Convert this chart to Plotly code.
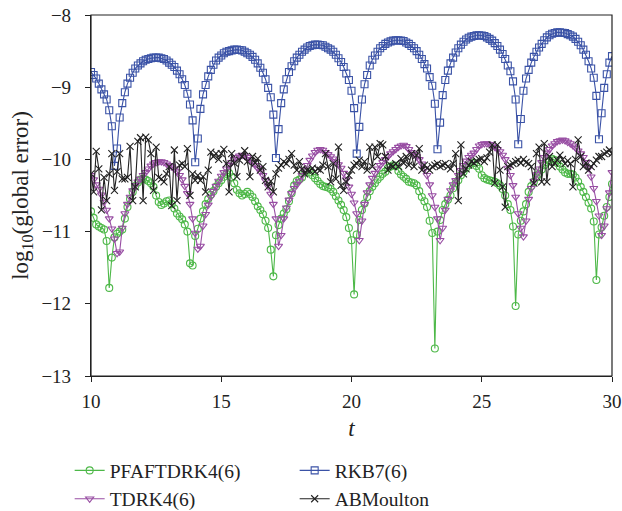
import plotly.graph_objects as go

# sample times
t = [round(10 + 0.1 * i, 1) for i in range(201)]

pfaft = [
    -10.72, -10.81, -10.90, -10.93, -10.95, -10.97, -11.13, -11.78, -11.36, -11.08,
    -11.03, -11.00, -10.97, -10.82, -10.66, -10.55, -10.45, -10.37, -10.32, -10.28,
    -10.27, -10.28, -10.30, -10.33, -10.38, -10.50, -10.59, -10.63, -10.61, -10.58,
    -10.57, -10.62, -10.68, -10.75, -10.79, -10.83, -10.90, -11.00, -11.44, -11.47,
    -11.06, -10.96, -10.82, -10.72, -10.62, -10.55, -10.49, -10.44, -10.38, -10.33,
    -10.29, -10.24, -10.20, -10.19, -10.25, -10.33, -10.42, -10.47, -10.50, -10.48,
    -10.45, -10.48, -10.52, -10.58, -10.65, -10.70, -10.76, -10.85, -10.95, -11.25,
    -11.62, -11.05, -10.91, -10.82, -10.75, -10.69, -10.58, -10.47, -10.36, -10.30,
    -10.28, -10.25, -10.18, -10.15, -10.18, -10.22, -10.26, -10.30, -10.34, -10.37,
    -10.38, -10.39, -10.41, -10.45, -10.51, -10.57, -10.63, -10.70, -10.80, -10.95,
    -11.12, -11.87, -11.04, -10.84, -10.70, -10.61, -10.52, -10.44, -10.38, -10.33,
    -10.28, -10.24, -10.20, -10.17, -10.12, -10.10, -10.08, -10.09, -10.16, -10.21,
    -10.24, -10.27, -10.31, -10.32, -10.33, -10.36, -10.44, -10.52, -10.58, -10.66,
    -10.85, -11.02, -12.62, -11.00, -10.84, -10.70, -10.62, -10.56, -10.50, -10.40,
    -10.33, -10.29, -10.22, -10.17, -10.12, -10.08, -10.04, -10.05, -10.09, -10.13,
    -10.22, -10.26, -10.28, -10.29, -10.30, -10.31, -10.33, -10.36, -10.41, -10.50,
    -10.62, -10.70, -10.93, -12.03, -11.04, -10.85, -10.72, -10.62, -10.45, -10.37,
    -10.31, -10.25, -10.20, -10.14, -10.08, -10.04, -10.01, -9.99, -10.01, -10.05,
    -10.10, -10.14, -10.18, -10.20, -10.20, -10.21, -10.25, -10.31, -10.38, -10.45,
    -10.52, -10.60, -10.68, -10.86, -11.67, -11.04, -10.94, -10.78, -10.66, -10.52,
    -10.34,
]

tdrk = [
    -10.22, -10.28, -10.35, -10.41, -10.49, -10.59, -10.70, -10.82, -10.96, -11.10,
    -11.30, -11.28, -10.95, -10.75, -10.62, -10.52, -10.43, -10.36, -10.31, -10.27,
    -10.22, -10.18, -10.13, -10.09, -10.06, -10.04, -10.03, -10.03, -10.04, -10.06,
    -10.08, -10.10, -10.13, -10.17, -10.22, -10.28, -10.37, -10.47, -10.62, -10.82,
    -11.02, -11.24, -11.20, -10.92, -10.76, -10.63, -10.52, -10.44, -10.37, -10.30,
    -10.23, -10.18, -10.13, -10.08, -10.04, -10.00, -9.97, -9.95, -9.94, -9.95,
    -9.97, -10.00, -10.04, -10.08, -10.12, -10.17, -10.22, -10.29, -10.37, -10.48,
    -10.62, -10.82, -11.20, -11.05, -10.82, -10.67, -10.56, -10.47, -10.40, -10.35,
    -10.30, -10.22, -10.15, -10.08, -10.01, -9.95, -9.90, -9.87, -9.86, -9.87,
    -9.90, -9.93, -9.96, -9.99, -10.03, -10.07, -10.12, -10.19, -10.28, -10.38,
    -10.48, -10.60, -10.75, -11.12, -10.85, -10.62, -10.46, -10.35, -10.26, -10.19,
    -10.13, -10.08, -10.04, -10.00, -9.96, -9.92, -9.89, -9.86, -9.83, -9.81,
    -9.80, -9.82, -9.86, -9.90, -9.93, -9.96, -10.00, -10.06, -10.13, -10.22,
    -10.35, -10.50, -10.66, -10.82, -11.12, -10.95, -10.70, -10.55, -10.43, -10.35,
    -10.29, -10.22, -10.15, -10.08, -10.02, -9.97, -9.94, -9.91, -9.86, -9.81,
    -9.79, -9.78, -9.78, -9.79, -9.81, -9.83, -9.86, -9.89, -9.94, -10.00,
    -10.12, -10.22, -10.36, -10.52, -10.75, -10.95, -11.07, -10.85, -10.55, -10.40,
    -10.30, -10.21, -10.13, -10.04, -9.97, -9.91, -9.86, -9.81, -9.78, -9.75,
    -9.74, -9.73, -9.74, -9.76, -9.78, -9.81, -9.84, -9.88, -9.92, -9.97,
    -10.04, -10.12, -10.24, -10.40, -10.58, -10.78, -11.05, -10.92, -10.68, -10.46,
    -10.18,
]

rkb = [
    -8.79, -8.83, -8.88, -8.95, -9.03, -9.10, -9.17, -9.32, -9.54, -10.09,
    -9.85, -9.42, -9.22, -9.07, -8.95, -8.87, -8.80, -8.74, -8.70, -8.67,
    -8.64, -8.62, -8.61, -8.60, -8.59, -8.59, -8.59, -8.60, -8.61, -8.63,
    -8.66, -8.69, -8.72, -8.77, -8.82, -8.89, -8.97, -9.09, -9.24, -9.46,
    -10.04, -9.71, -9.30, -9.10, -8.97, -8.85, -8.76, -8.69, -8.63, -8.59,
    -8.56, -8.53, -8.51, -8.50, -8.49, -8.48, -8.48, -8.485, -8.49, -8.51,
    -8.53, -8.55, -8.58, -8.62, -8.67, -8.73, -8.80, -8.89, -9.01, -9.14,
    -9.38, -9.98, -9.58, -9.22, -9.03, -8.89, -8.79, -8.71, -8.64, -8.59,
    -8.55, -8.51, -8.48, -8.45, -8.43, -8.42, -8.41, -8.41, -8.415, -8.42,
    -8.44, -8.46, -8.48, -8.51, -8.55, -8.60, -8.65, -8.72, -8.81, -8.90,
    -9.05, -9.29, -9.92, -9.55, -9.17, -8.96, -8.83, -8.70, -8.62, -8.56,
    -8.51, -8.46, -8.43, -8.40, -8.38, -8.365, -8.355, -8.35, -8.35, -8.355,
    -8.36, -8.38, -8.40, -8.43, -8.46, -8.50, -8.55, -8.61, -8.68, -8.74,
    -8.86, -8.98, -9.23, -9.86, -9.49, -9.11, -8.90, -8.77, -8.67, -8.59,
    -8.52, -8.46, -8.41, -8.37, -8.34, -8.315, -8.30, -8.29, -8.28, -8.28,
    -8.285, -8.29, -8.31, -8.33, -8.355, -8.39, -8.43, -8.48, -8.54, -8.61,
    -8.70, -8.78, -8.92, -9.17, -9.79, -9.44, -9.05, -8.88, -8.76, -8.66,
    -8.58, -8.51, -8.45, -8.40, -8.35, -8.31, -8.28, -8.26, -8.25, -8.24,
    -8.24, -8.245, -8.25, -8.265, -8.28, -8.30, -8.33, -8.37, -8.42, -8.48,
    -8.55, -8.64, -8.74, -8.87, -9.12, -9.72, -9.36, -9.01, -8.82, -8.66,
    -8.57,
]

abm = [
    -10.20, -10.45, -9.89, -10.13, -10.70, -10.25, -10.57, -10.20, -9.92, -10.43,
    -10.17, -9.92, -10.27, -10.27, -10.25, -9.82, -10.57, -10.38, -9.75, -9.70,
    -10.57, -9.69, -9.73, -9.92, -10.43, -9.83, -10.25, -10.27, -10.31, -10.20,
    -10.10, -10.64, -9.87, -10.57, -10.08, -10.06, -10.10, -9.85, -10.50, -10.20,
    -10.29, -10.22, -10.29, -10.24, -10.45, -10.15, -9.90, -9.96, -9.92, -10.00,
    -9.92, -9.86, -10.06, -10.45, -9.92, -10.05, -10.24, -10.01, -9.96, -9.88,
    -10.03, -10.24, -9.96, -10.05, -9.99, -10.15, -10.10, -10.29, -10.38, -10.30,
    -10.45, -10.20, -10.12, -10.08, -10.03, -10.06, -10.00, -9.92, -10.08, -10.15,
    -10.03, -10.13, -10.20, -10.15, -10.16, -10.12, -10.17, -10.13, -10.15, -10.08,
    -9.92, -10.10, -10.31, -10.06, -10.27, -9.83, -10.36, -10.43, -10.31, -10.22,
    -10.15, -10.08, -10.06, -10.01, -10.10, -10.03, -10.15, -9.83, -10.10, -9.83,
    -9.96, -9.78, -9.80, -9.96, -10.15, -10.08, -10.10, -10.06, -10.10, -9.99,
    -10.05, -9.96, -10.08, -9.92, -10.10, -9.94, -9.85, -10.15, -10.08, -10.12,
    -10.15, -10.10, -10.08, -10.06, -10.10, -10.08, -10.06, -10.10, -10.13, -10.06,
    -9.92, -10.57, -9.80, -10.20, -10.13, -10.08, -10.03, -10.05, -10.02, -10.00,
    -9.99, -10.03, -9.98, -9.90, -9.80, -10.33, -9.80, -10.15, -10.38, -10.66,
    -10.10, -10.08, -10.06, -10.03, -10.01, -10.05, -10.00, -10.04, -10.06, -10.10,
    -10.33, -9.92, -9.83, -10.31, -9.78, -10.31, -9.96, -10.10, -10.05, -10.01,
    -9.94, -10.00, -10.06, -10.02, -10.06, -10.38, -10.00, -9.73, -9.96, -10.10,
    -10.05, -10.15, -10.10, -10.06, -10.01, -9.96, -9.96, -9.92, -9.90, -9.87,
    -9.92,
]

names = ["PFAFTDRK4(6)", "TDRK4(6)", "RKB7(6)", "ABMoulton"]
colors = ["#4db848", "#984ea3", "#3a52a6", "#222222"]
symbols = ["circle-open", "triangle-down-open", "square-open", "x-thin-open"]
ranks = [1, 3, 2, 4]
series = [pfaft, tdrk, rkb, abm]

for s in series:
    assert len(s) == len(t), len(s)

FONT = "Liberation Serif"

fig = go.Figure()
for name, col, sym, rk, ys in zip(names, colors, symbols, ranks, series):
    fig.add_trace(go.Scatter(
        x=t, y=ys, name=name, mode="lines+markers", legendrank=rk,
        line=dict(color=col, width=1.1),
        marker=dict(symbol=sym, size=7, color=col, line=dict(color=col, width=1.1)),
    ))

fig.update_layout(
    width=622, height=511,
    margin=dict(l=91, r=10, t=15, b=135, autoexpand=False),
    paper_bgcolor="white", plot_bgcolor="white",
    font=dict(family=FONT, size=19, color="#222"),
    showlegend=True,
    legend=dict(
        orientation="h", xref="container", yref="container",
        x=0.112, y=0.117, xanchor="left", yanchor="top",
        entrywidth=180, entrywidthmode="pixels",
        font=dict(family=FONT, size=19.5, color="#222"),
        bgcolor="rgba(0,0,0,0)",
    ),
    shapes=[dict(type="rect", xref="paper", yref="paper", x0=0, y0=0, x1=1, y1=1,
                 line=dict(color="#222", width=1.2), layer="above")],
)
fig.update_xaxes(
    range=[10, 30], tickvals=[10, 15, 20, 25, 30], ticks="outside", ticklen=5,
    tickcolor="#222", showline=True, linecolor="#222", linewidth=1.2,
    showgrid=False, zeroline=False, ticklabelstandoff=3,
    title=dict(text="<i>t</i>", standoff=8),
)
fig.update_yaxes(
    range=[-13, -8], tickvals=[-13, -12, -11, -10, -9, -8], ticks="outside", ticklen=5,
    tickcolor="#222", showline=True, linecolor="#222", linewidth=1.2,
    showgrid=False, zeroline=False, ticklabelstandoff=10,
    title=dict(text="log<sub>10</sub>(global error)", standoff=6),
)

fig.write_html("out.html")
